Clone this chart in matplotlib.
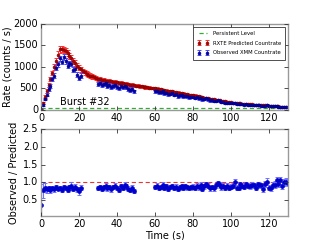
import numpy as np
import matplotlib
matplotlib.use("Agg")
import matplotlib.pyplot as plt

# ---------------- data ----------------
t_pred = list(range(0, 131))
pred = [20, 160, 300, 440, 580, 720, 860, 1000, 1140, 1290, 1410,
        1420, 1400, 1370, 1320, 1260, 1200, 1140, 1090, 1030, 985,
        945, 905, 875, 845, 820, 800, 780, 760, 740, 725,
        718, 702, 698, 683, 680, 668, 664, 652, 650, 640,
        634, 622, 619, 608, 604, 592, 590, 578, 574, 565,
        560, 549, 546, 535, 532, 522, 520, 510, 508, 500,
        494, 482, 478, 466, 462, 450, 446, 434, 430, 420,
        414, 402, 398, 386, 382, 370, 366, 354, 350, 340,
        334, 321, 316, 304, 299, 287, 282, 270, 265, 255,
        249, 236, 232, 220, 216, 204, 200, 188, 184, 175,
        172, 163, 162, 153, 152, 144, 144, 136, 136, 130,
        129, 122, 123, 116, 117, 110, 111, 104, 105, 100,
        98, 90, 90, 82, 82, 75, 76, 69, 70, 65]
pred_err = [12, 28, 36, 42, 47, 52, 57, 62, 66, 70, 74,
            75, 74, 73, 71, 69, 67, 65, 63, 61, 59,
            57, 56, 55, 53, 52, 51, 50, 49, 48, 47,
            46, 46, 45, 45, 44, 44, 43, 43, 42, 42,
            41, 41, 40, 40, 39, 39, 38, 38, 37, 37,
            36, 36, 35, 35, 34, 34, 33, 33, 32, 32,
            32, 31, 31, 30, 30, 30, 29, 29, 29, 28,
            28, 28, 27, 27, 27, 26, 26, 26, 25, 25,
            25, 24, 24, 24, 23, 23, 23, 22, 22, 22,
            22, 21, 21, 21, 20, 20, 20, 20, 19, 19,
            19, 19, 18, 18, 18, 18, 17, 17, 17, 17,
            17, 16, 16, 16, 16, 16, 15, 15, 15, 15,
            15, 14, 14, 14, 14, 14, 13, 13, 13, 13]

t_obs = (list(range(0, 22)) + list(range(30, 50)) + list(range(60, 131)))
obs = [7, 125, 255, 352, 481, 554, 722, 800, 980, 1058, 1199,
       1122, 1232, 1137, 1030, 1084, 1080, 935, 948, 824, 749, 794,
       609, 629, 578, 598, 617, 563, 583, 530, 563, 590,
       538, 499, 550, 524, 567, 536, 487, 459, 487, 435,
       430, 443, 407, 419, 431, 391, 402, 364, 379, 385,
       353, 363, 323, 341, 345, 323, 327, 313, 295, 303,
       299, 282, 291, 270, 285, 244, 254, 266, 245, 221,
       222, 207, 217, 225, 206, 186, 185, 170, 169, 155,
       154, 155, 163, 138, 130, 143, 131, 125, 128, 122,
       116, 119, 112, 105, 109, 109, 101, 90, 99, 107,
       85, 83, 83, 84, 87, 78, 79, 69, 69, 71, 64]
obs_err = [10, 24, 32, 37, 42, 45, 51, 54, 60, 62, 66,
           64, 67, 64, 61, 63, 63, 58, 58, 55, 52, 54,
           47, 48, 46, 47, 48, 45, 46, 44, 45, 46,
           44, 42, 44, 43, 45, 43, 42, 41, 42, 40,
           40, 40, 38, 39, 39, 37, 38, 36, 37, 37,
           35, 36, 34, 35, 35, 34, 34, 33, 32, 33,
           32, 31, 32, 30, 31, 29, 30, 30, 29, 28,
           28, 27, 28, 28, 27, 26, 26, 25, 25, 24,
           24, 24, 25, 23, 22, 23, 22, 22, 22, 21,
           21, 21, 20, 20, 20, 20, 19, 18, 19, 20,
           18, 17, 17, 17, 18, 17, 17, 16, 16, 16, 15]
ratio_err = [0.60, 0.22, 0.12, 0.09, 0.08, 0.07, 0.06, 0.06, 0.06, 0.05, 0.05,
             0.05, 0.05, 0.05, 0.06, 0.06, 0.12, 0.06, 0.07, 0.07, 0.12, 0.07,
             0.06, 0.06, 0.06, 0.06, 0.07, 0.06, 0.06, 0.06, 0.06, 0.07,
             0.06, 0.06, 0.07, 0.06, 0.07, 0.07, 0.06, 0.06, 0.07, 0.06,
             0.06, 0.07, 0.06, 0.06, 0.07, 0.06, 0.07, 0.06, 0.06, 0.07,
             0.06, 0.07, 0.06, 0.06, 0.07, 0.06, 0.07, 0.06, 0.06, 0.07,
             0.07, 0.06, 0.07, 0.06, 0.07, 0.06, 0.07, 0.07, 0.06, 0.07,
             0.06, 0.07, 0.07, 0.08, 0.07, 0.07, 0.07, 0.07, 0.07, 0.07,
             0.08, 0.07, 0.08, 0.07, 0.07, 0.08, 0.07, 0.07, 0.08, 0.07,
             0.08, 0.08, 0.07, 0.08, 0.08, 0.08, 0.07, 0.08, 0.08, 0.09,
             0.08, 0.08, 0.09, 0.09, 0.10, 0.09, 0.10, 0.09, 0.09, 0.10, 0.10]

persistent_level = 40
burst_label = "Burst #32"

# ---------------- plot ----------------
plt.style.use('classic')
plt.rcParams['font.family'] = 'DejaVu Sans'
FS = 7

pred_a = np.array(pred, float)
obs_a = np.array(obs, float)
t_obs_a = np.array(t_obs)
pred_at_obs = pred_a[t_obs_a]
ratio = obs_a / pred_at_obs

fig = plt.figure(figsize=(3.2, 2.4), dpi=100, facecolor='white')
ax1 = fig.add_axes([0.128, 0.542, 0.772, 0.358])
ax2 = fig.add_axes([0.128, 0.10, 0.772, 0.362])

spine_c = '#999999'
for ax in (ax1, ax2):
    for s in ax.spines.values():
        s.set_color(spine_c)
        s.set_linewidth(1.0)
    ax.tick_params(which='both', direction='in', length=3, width=0.6,
                   labelsize=FS, pad=2, color='#333333')

ax1.plot([0, 130], [persistent_level, persistent_level], '--', color='#33aa33',
         lw=0.9, label='Persistent Level', dashes=(3, 2))
ax1.errorbar(t_pred, pred, yerr=pred_err, fmt='o', ms=2.0, color='#aa0000',
             mec='#880000', ecolor='#ff3030', elinewidth=0.8, capsize=1.4,
             capthick=0.7, label='RXTE Predicted Countrate')
ax1.errorbar(t_obs, obs, yerr=obs_err, fmt='o', ms=2.0, color='#0000aa',
             mec='#000088', ecolor='#4a4aff', elinewidth=0.8, capsize=1.4,
             capthick=0.7, label='Observed XMM Countrate')
ax1.set_xlim(0, 130)
ax1.set_ylim(0, 2000)
ax1.set_xticks([0, 20, 40, 60, 80, 100, 120])
ax1.set_yticks([0, 500, 1000, 1500, 2000])
ax1.set_ylabel('Rate (counts / s)', fontsize=FS, labelpad=1)
ax1.text(10, 105, burst_label, fontsize=FS)
leg = ax1.legend(loc='upper right', fontsize=3.8, numpoints=2, frameon=True,
                 borderaxespad=0.5, handlelength=2.2, borderpad=0.8,
                 labelspacing=0.9, fancybox=False)
leg.get_frame().set_linewidth(0.6)
leg.get_frame().set_edgecolor('#333333')

ax2.plot([0, 130], [1, 1], '--', color='#ee3333', lw=0.8, dashes=(3, 2))
ax2.errorbar(t_obs, ratio, yerr=ratio_err, fmt='o', ms=2.8, color='#0000cc',
             mec='#0000cc', ecolor='#7070ff', elinewidth=0.8, capsize=1.4,
             capthick=0.7)
ax2.set_xlim(0, 130)
ax2.set_ylim(0.05, 2.5)
ax2.set_xticks([0, 20, 40, 60, 80, 100, 120])
ax2.set_yticks([0.5, 1.0, 1.5, 2.0, 2.5])
ax2.set_xlabel('Time (s)', fontsize=FS, labelpad=1)
ax2.set_ylabel('Observed / Predicted', fontsize=FS, labelpad=3)

fig.savefig('out.png', dpi=100, facecolor='white')
